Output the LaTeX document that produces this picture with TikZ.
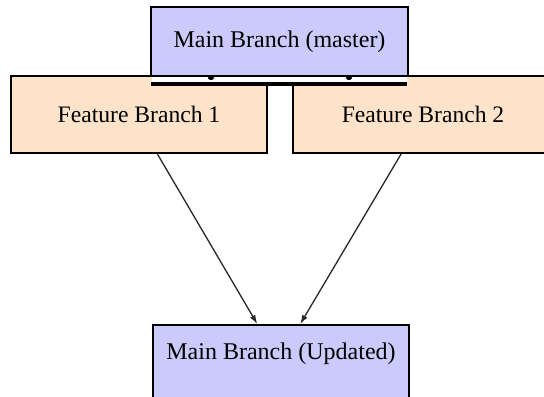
\documentclass[tikz,border=0pt]{standalone}
\usepackage{fontspec}
\setmainfont{Liberation Serif}
\usetikzlibrary{arrows.meta}
\definecolor{mainfill}{HTML}{CACAFB}
\definecolor{featfill}{HTML}{FDE3C9}
\definecolor{edgegray}{HTML}{282828}
\tikzset{
  mainbox/.style={draw=black, line width=0.75pt, fill=mainfill, inner sep=0pt,
    font=\fontsize{12}{14}\selectfont},
  featbox/.style={draw=black, line width=0.75pt, fill=featfill, inner sep=0pt,
    minimum height=38.5pt, font=\fontsize{11.8}{14}\selectfont},
  mergearrow/.style={draw=edgegray, line width=0.65pt,
    -{Latex[length=4.5pt,width=3pt]}},
}
\begin{document}
\begin{tikzpicture}[x=0.5pt,y=-0.5pt]
  \useasboundingbox (0,0) rectangle (544,396);
  \clip (0,0) rectangle (544,396);

  % feature branches
  \node[featbox, minimum width=128pt] (f1) at (139,114.5) {Feature Branch 1};
  \node[featbox, minimum width=130pt] (f2) at (423,114.5) {Feature Branch 2};

  % strip under the main branch with the thick bar
  \fill[white] (152,77) rectangle (407,82);
  \draw[line width=1.6pt] (151,84) -- (407,84);

  % main branch
  \node[mainbox, minimum width=128.5pt, minimum height=34.5pt] (main) at (279.5,41.5)
    {Main Branch (master)};
  \fill (211,78) ellipse (3 and 2);
  \fill (349,78) ellipse (3 and 2);

  % updated main branch
  \node[mainbox, anchor=north, minimum width=128pt, text height=17.5pt,
    text depth=25.5pt] (upd) at (281,324) {Main Branch (Updated)};

  % merges
  \draw[mergearrow] ([xshift=73.5pt]f1.south west) -- ([xshift=52.5pt]upd.north west);
  \draw[mergearrow] ([xshift=54.5pt]f2.south west) -- ([xshift=74pt]upd.north west);
\end{tikzpicture}
\end{document}
